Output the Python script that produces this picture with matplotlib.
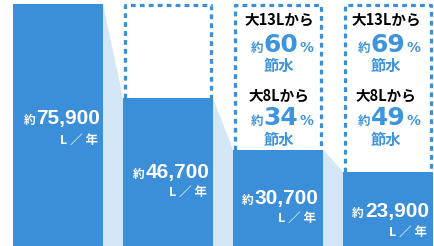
import matplotlib
matplotlib.use("Agg")
from matplotlib import pyplot as plt

# 年間使用水量 (L/年)
values = [75900, 46700, 30700, 23900]
labels = ["75,900", "46,700", "30,700", "23,900"]
# 節水率 (箱の中): 上段=大13Lから, 下段=大8Lから
save13 = [None, None, "60", "69"]
save8 = [None, None, "34", "49"]

BAR = "#3b8fd9"
PALE = "#d3e7f7"
TXTBLUE = "#3f95dd"
JP = ["Noto Sans CJK JP", "DejaVu Sans"]
NUM = ["Liberation Sans", "DejaVu Sans"]

# ピクセル -> データ座標
per_px = values[0] / 244.5
def vy(p):
    return (248.5 - p) * per_px
def vx(p):
    return (p - 58) / 110

fig = plt.figure(figsize=(4.35, 2.46), dpi=100)
ax = fig.add_axes([0, 0, 1, 1])
ax.set_xlim(vx(0), vx(435))
ax.set_ylim(vy(246), vy(0))
ax.axis("off")

w = 90 / 110
xs = list(range(len(values)))
ax.bar(xs, values, width=w, color=BAR, zorder=3)

# 棒の間の薄い斜面
for i in range(len(values) - 1):
    r = xs[i] + w / 2
    l = xs[i + 1] - w / 2
    ax.fill([r, l, l, r], [values[i], values[i + 1], 0, 0],
            color=PALE, lw=0, zorder=1)

# 点線の箱 (元の使用量の高さ)
hw = 43 / 110
top = vy(5)
for i in range(1, len(values)):
    x0, x1 = xs[i] - hw, xs[i] + hw
    ax.plot([x0, x0, x1, x1], [values[i], top, top, values[i]],
            color=BAR, lw=2.3, ls=(0, (1.5, 1.3)), solid_capstyle="butt",
            dash_capstyle="butt", zorder=4, clip_on=False)

fig.canvas.draw()
rend = fig.canvas.get_renderer()
inv = ax.transData.inverted()

def left_of(t, gap=1):
    bb = t.get_window_extent(rend)
    return inv.transform((bb.x0 - gap, bb.y0))[0]

def right_of(t, gap=1):
    bb = t.get_window_extent(rend)
    return inv.transform((bb.x1 + gap, bb.y0))[0]

# 棒の中の数値
num_pos = [(100, 124, 140), (209, 178, 192), (318, 204, 218), (429, 217, 232)]
for i, lab in enumerate(labels):
    rx, base, unit_y = num_pos[i]
    t = ax.text(vx(rx), vy(base), lab, ha="right", va="baseline",
                color="white", fontsize=15, fontweight="bold",
                family=NUM, zorder=5)
    ax.text(left_of(t), vy(base), "約", ha="right", va="baseline",
            color="white", fontsize=8.5, fontweight="bold", family=JP, zorder=5)
    ax.text(vx(rx - 2), vy(unit_y), "L ／ 年", ha="right", va="center",
            color="white", fontsize=9, fontweight="bold", family=JP, zorder=5)

# 箱の中の節水率
centers = [None, None, 279, 386]
rows = [("大13Lから", save13, 20, 52, 66), ("大8Lから", save8, 96, 125, 140)]
for i in range(2, len(values)):
    cx = centers[i]
    for head, pct, hy, by, sy in rows:
        ax.text(vx(cx), vy(hy), head, ha="center", va="center", color="black",
                fontsize=10.5, fontweight="bold", family=JP, zorder=5)
        t = ax.text(vx(cx + 2), vy(by), pct[i], ha="center", va="baseline",
                    color=TXTBLUE, fontsize=18, fontweight="bold",
                    family=["DejaVu Sans"], zorder=5)
        ax.text(left_of(t, 0), vy(by), "約", ha="right", va="baseline",
                color=TXTBLUE, fontsize=9, fontweight="bold", family=JP, zorder=5)
        ax.text(right_of(t, 1), vy(by), "%", ha="left", va="baseline",
                color=TXTBLUE, fontsize=10, fontweight="bold",
                family=["DejaVu Sans"], zorder=5)
        ax.text(vx(cx), vy(sy), "節水", ha="center", va="center",
                color=TXTBLUE, fontsize=11, fontweight="bold", family=JP, zorder=5)

fig.savefig("out.png", dpi=100)
